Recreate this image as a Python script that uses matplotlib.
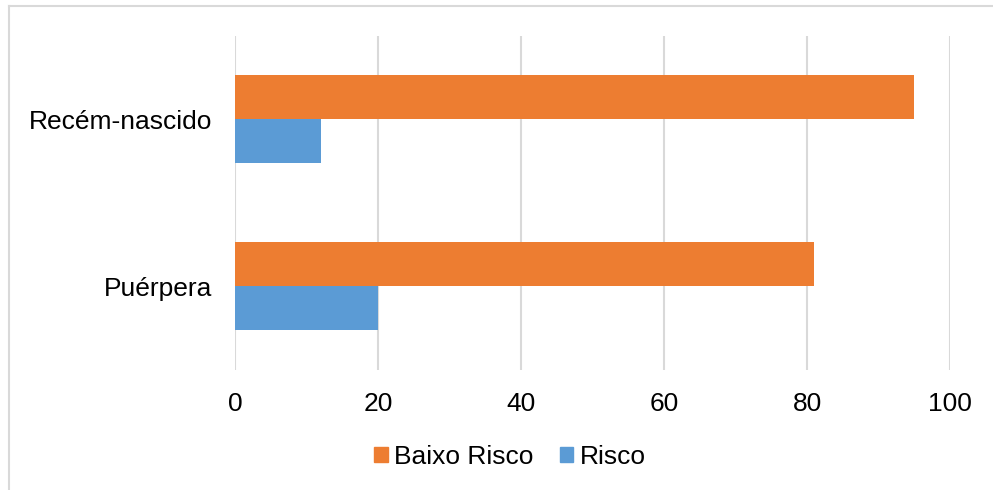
import numpy as np
import matplotlib.pyplot as plt
from matplotlib.lines import Line2D

# Data
categorias = ["Puérpera", "Recém-nascido"]
baixo_risco = [81, 95]
risco = [20, 12]
series_labels = ["Baixo Risco", "Risco"]
xticks = [0, 20, 40, 60, 80, 100]

orange = "#ED7D31"
blue = "#5B9BD5"
grid_gray = "#D9D9D9"

plt.rcParams["font.family"] = ["Liberation Sans", "DejaVu Sans"]

W, H = 993, 490
fig = plt.figure(figsize=(W / 100, H / 100), dpi=100)

# plot area in pixels: x 235..950, y 36..370
left, right, top, bottom = 235, 950, 36, 370
ax = fig.add_axes([left / W, 1 - bottom / H, (right - left) / W, (bottom - top) / H])

y = np.arange(len(categorias))
h = 44 / 167
ax.barh(y + h / 2, baixo_risco, height=h, color=orange, label=series_labels[0], zorder=3)
ax.barh(y - h / 2, risco, height=h, color=blue, label=series_labels[1], zorder=3)

ax.set_xlim(0, 100)
ax.set_ylim(-0.5, len(categorias) - 0.5)
ax.set_xticks(xticks)
ax.set_yticks(y)
ax.set_yticklabels(categorias)
ax.tick_params(axis="both", length=0, labelsize=19, colors="black")
ax.tick_params(axis="x", pad=16)
ax.tick_params(axis="y", pad=16.5)
ax.grid(axis="x", color=grid_gray, linewidth=1.5, zorder=0)
for s in ax.spines.values():
    s.set_visible(False)

# legend below the plot
handles = [plt.Rectangle((0, 0), 1, 1, color=orange), plt.Rectangle((0, 0), 1, 1, color=blue)]
fig.legend(handles, series_labels, loc="center", bbox_to_anchor=(510 / W, 1 - 457 / H),
           ncol=2, frameon=False, fontsize=19, handlelength=0.5, handleheight=0.5,
           handletextpad=0.25, columnspacing=1.0)

# light chart frame (only left and top edges visible)
fig.add_artist(Line2D([8.5 / W, 8.5 / W], [0, 1 - 6 / H], transform=fig.transFigure,
                      color=grid_gray, linewidth=1.5))
fig.add_artist(Line2D([8.5 / W, 1], [1 - 6 / H, 1 - 6 / H], transform=fig.transFigure,
                      color=grid_gray, linewidth=1.5))

fig.savefig("out.png", dpi=100)
